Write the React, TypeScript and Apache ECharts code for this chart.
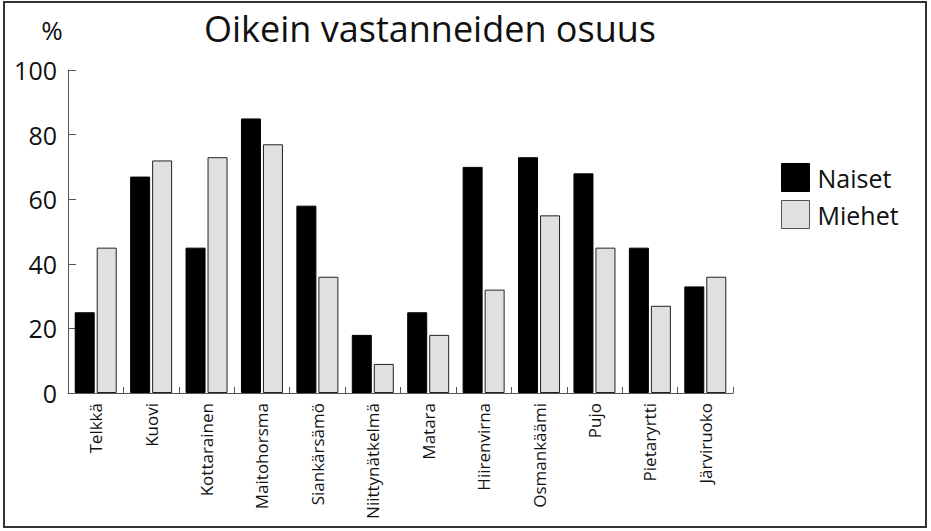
import React, { useEffect, useRef } from "react";
import * as echarts from "echarts";

const categories = [
  "Telkkä", "Kuovi", "Kottarainen", "Maitohorsma", "Siankärsämö", "Niittynätkelmä",
  "Matara", "Hiirenvirna", "Osmankäämi", "Pujo", "Pietaryrtti", "Järviruoko",
];
const naiset = [25, 67, 45, 85, 58, 18, 25, 70, 73, 68, 45, 33];
const miehet = [45, 72, 73, 77, 36, 9, 18, 32, 55, 45, 27, 36];
const titleText = "Oikein vastanneiden osuus";
const unitText = "%";

const FONT = "Open Sans";

export default function App() {
  const ref = useRef<HTMLDivElement>(null);
  useEffect(() => {
    if (!ref.current) return;
    const chart = echarts.init(ref.current, null, { renderer: "svg" });
    chart.setOption({
      animation: false,
      backgroundColor: "#fff",
      textStyle: { fontFamily: FONT },
      title: [
        {
          text: titleText,
          left: 425,
          textAlign: "center",
          top: 5,
          textStyle: { fontSize: 36, fontWeight: "normal", color: "#111", fontFamily: FONT },
        },
        {
          text: unitText,
          left: 47,
          textAlign: "center",
          top: 12,
          textStyle: { fontSize: 26, fontWeight: "normal", color: "#111", fontFamily: FONT },
        },
      ],
      graphic: [
        {
          type: "rect",
          shape: { x: 4, y: 2, width: 922, height: 525 },
          style: { fill: "none", stroke: "#333", lineWidth: 2 },
          silent: true,
        },
      ],
      legend: {
        orient: "vertical",
        left: 776,
        top: 158,
        itemWidth: 28,
        itemHeight: 28,
        itemGap: 8,
        icon: "rect",
        textStyle: { fontSize: 25, color: "#111", fontFamily: FONT, padding: [0, 0, 0, 3] },
        data: [
          { name: "Naiset", itemStyle: { color: "#000", borderColor: "#000", borderWidth: 1 } },
          { name: "Miehet", itemStyle: { color: "#e0e0e0", borderColor: "#555", borderWidth: 1 } },
        ],
      },
      grid: { left: 68, right: 198, top: 70, bottom: 138, containLabel: false },
      xAxis: {
        type: "category",
        data: categories,
        boundaryGap: true,
        axisLine: { lineStyle: { color: "#555", width: 1 } },
        axisTick: { show: true, inside: true, length: 6, lineStyle: { color: "#555" } },
        axisLabel: { rotate: 90, fontSize: 17, color: "#111", margin: 10, fontFamily: FONT },
        splitLine: { show: false },
      },
      yAxis: {
        type: "value",
        min: 0,
        max: 100,
        interval: 20,
        axisLine: { show: true, lineStyle: { color: "#555", width: 1 } },
        axisTick: { show: true, inside: true, length: 8, lineStyle: { color: "#555" } },
        axisLabel: { fontSize: 25, color: "#111", margin: 11, fontFamily: FONT },
        splitLine: { show: false },
      },
      series: [
        {
          name: "Naiset",
          type: "bar",
          data: naiset,
          barWidth: 20,
          barGap: "10%",
          itemStyle: { color: "#000", borderColor: "#000", borderWidth: 1 },
        },
        {
          name: "Miehet",
          type: "bar",
          data: miehet,
          barWidth: 20,
          itemStyle: { color: "#e0e0e0", borderColor: "#222", borderWidth: 1 },
        },
      ],
    });
    return () => chart.dispose();
  }, []);
  return (
    <div
      ref={ref}
      style={{ position: "fixed", left: 0, top: 0, width: 931, height: 531 }}
    />
  );
}
